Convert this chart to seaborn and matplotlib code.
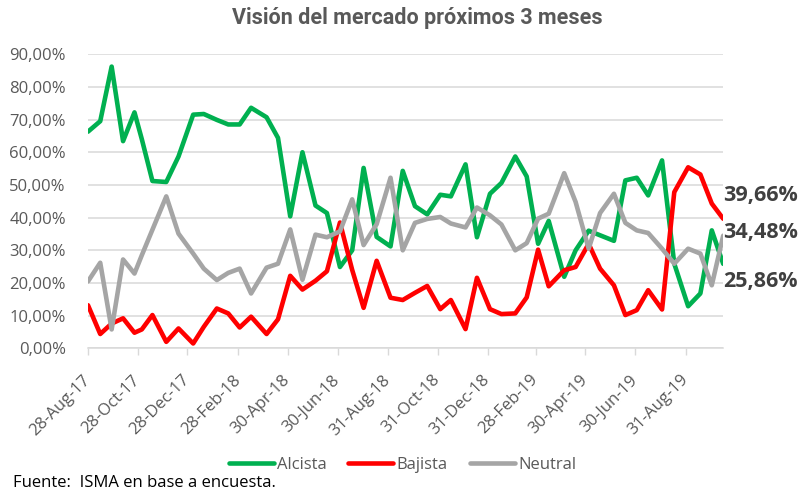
import pandas as pd
import matplotlib.pyplot as plt
import matplotlib.ticker as mticker
import seaborn as sns

sns.set_theme(style='white')
plt.rcParams['font.family'] = ['Open Sans', 'DejaVu Sans']

# Datos (en %)
fechas = ['2017-08-28', '2017-09-12', '2017-09-26', '2017-10-10', '2017-10-24', '2017-11-02',
          '2017-11-15', '2017-12-02', '2017-12-17', '2018-01-04', '2018-01-17', '2018-02-02',
          '2018-02-16', '2018-03-02', '2018-03-16', '2018-04-04', '2018-04-18', '2018-05-03',
          '2018-05-18', '2018-06-03', '2018-06-17', '2018-07-03', '2018-07-18', '2018-08-01',
          '2018-08-17', '2018-09-03', '2018-09-18', '2018-10-03', '2018-10-18', '2018-11-03',
          '2018-11-16', '2018-12-04', '2018-12-18', '2019-01-03', '2019-01-17', '2019-02-03',
          '2019-02-17', '2019-03-03', '2019-03-16', '2019-04-04', '2019-04-18', '2019-05-04',
          '2019-05-18', '2019-06-04', '2019-06-18', '2019-07-02', '2019-07-16', '2019-08-02',
          '2019-08-17', '2019-09-03', '2019-09-18', '2019-10-02', '2019-10-16']
alcista = [66.3, 69.5, 86.2, 63.4, 72.2, 64.0, 51.2, 50.9, 58.7, 71.5, 71.7, 69.9,
           68.5, 68.5, 73.6, 70.7, 64.4, 40.4, 60.0, 43.7, 41.4, 24.9, 30.0, 55.2,
           34.1, 31.2, 54.3, 43.5, 41.0, 47.0, 46.5, 56.3, 34.0, 47.3, 50.6, 58.7,
           52.6, 32.0, 39.0, 21.9, 30.0, 36.0, 34.6, 32.9, 51.4, 52.2, 46.8, 57.5,
           25.9, 12.9, 16.8, 36.1, 25.86]
bajista = [13.2, 4.4, 7.6, 9.2, 4.8, 5.8, 10.2, 2.0, 6.1, 1.5, 6.6, 12.2,
           10.7, 6.4, 9.7, 4.4, 8.9, 22.2, 18.0, 20.7, 23.6, 38.5, 24.0, 12.4,
           26.8, 15.5, 14.8, 17.0, 19.1, 12.0, 14.8, 5.9, 21.6, 12.0, 10.5, 10.7,
           15.6, 30.2, 19.0, 23.9, 24.9, 32.0, 24.4, 19.3, 10.2, 11.7, 17.8, 11.9,
           47.8, 55.4, 53.2, 44.3, 39.66]
neutral = [20.5, 26.2, 5.8, 27.2, 22.9, 28.5, 36.3, 46.5, 35.1, 29.0, 24.4, 20.9,
           23.1, 24.4, 16.8, 24.7, 25.9, 36.4, 21.0, 34.8, 34.0, 35.8, 45.6, 31.6,
           38.0, 52.2, 30.0, 38.4, 39.6, 40.2, 38.2, 37.0, 43.1, 40.7, 37.9, 30.0,
           32.2, 39.7, 41.2, 53.6, 44.8, 30.5, 41.4, 47.3, 38.4, 36.1, 35.3, 30.5,
           25.9, 30.5, 29.0, 19.3, 34.48]

tick_fechas = ['2017-08-28', '2017-10-28', '2017-12-28', '2018-02-28', '2018-04-30', '2018-06-30',
               '2018-08-31', '2018-10-31', '2018-12-31', '2019-02-28', '2019-04-30', '2019-06-30',
               '2019-08-31']
tick_labels = ['28-Aug-17', '28-Oct-17', '28-Dec-17', '28-Feb-18', '30-Apr-18', '30-Jun-18',
               '31-Aug-18', '31-Oct-18', '31-Dec-18', '28-Feb-19', '30-Apr-19', '30-Jun-19',
               '31-Aug-19']

series = ['Alcista', 'Bajista', 'Neutral']
colores = ['#00B050', '#FF0000', '#A5A5A5']

df = pd.DataFrame({'Fecha': pd.to_datetime(fechas), 'Alcista': alcista,
                   'Bajista': bajista, 'Neutral': neutral})
df_long = df.melt(id_vars='Fecha', var_name='Serie', value_name='Valor')

fig, ax = plt.subplots(figsize=(8, 4.97), dpi=100)
fig.subplots_adjust(left=0.11, right=0.904, top=0.891, bottom=0.299)

sns.lineplot(data=df_long, x='Fecha', y='Valor', hue='Serie', hue_order=series,
             palette=dict(zip(series, colores)), linewidth=3.3, ax=ax)

ax.set_xlim(df['Fecha'].iloc[0], df['Fecha'].iloc[-1])
ax.set_ylim(0, 90)
ax.yaxis.set_major_locator(mticker.MultipleLocator(10))
ax.yaxis.set_major_formatter(mticker.FuncFormatter(lambda v, p: f'{v:.2f}%'.replace('.', ',')))
ax.grid(axis='y', color='#D9D9D9', linewidth=1.1)
ax.set_axisbelow(True)
ax.set_xlabel('')
ax.set_ylabel('')

ax.set_xticks(pd.to_datetime(tick_fechas))
ax.set_xticklabels(tick_labels, rotation=45, ha='right', va='center', rotation_mode='anchor')
ax.tick_params(axis='x', colors='#D9D9D9', labelcolor='#595959', labelsize=12,
               length=5, width=1, direction='out', bottom=True, pad=16)
ax.tick_params(axis='y', labelcolor='#595959', labelsize=12, length=0, pad=16)

for s in ['top', 'right', 'left']:
    ax.spines[s].set_visible(False)
ax.spines['bottom'].set_color('#D9D9D9')
ax.spines['bottom'].set_linewidth(1.1)

# Etiquetas finales
ultimo = df['Fecha'].iloc[-1]
offsets = {'Bajista': 17, 'Neutral': 2, 'Alcista': -13}
for serie in series:
    v = df[serie].iloc[-1]
    ax.annotate(f'{v:.2f}%'.replace('.', ','), xy=(ultimo, v), xytext=(0, offsets[serie]),
                textcoords='offset points', ha='left', va='center', fontsize=15.5,
                fontweight='bold', color='#404040', annotation_clip=False)

handles, labels = ax.get_legend_handles_labels()
ax.get_legend().remove()
fig.legend(handles, labels, loc='center', bbox_to_anchor=(0.503, 0.064), ncol=3,
           frameon=False, handlelength=2.7, columnspacing=1.3, handletextpad=0.2,
           fontsize=12, labelcolor='#595959')

fig.text(0.522, 0.963, 'Visión del mercado próximos 3 meses', ha='center', va='center',
         fontsize=15.5, fontweight='bold', color='#595959', family=['Roboto', 'DejaVu Sans'])
fig.text(0.016, 0.028, 'Fuente:  ISMA en base a encuesta.', ha='left', va='center',
         fontsize=12, color='black')

plt.savefig('out.png', dpi=100)
plt.close()
